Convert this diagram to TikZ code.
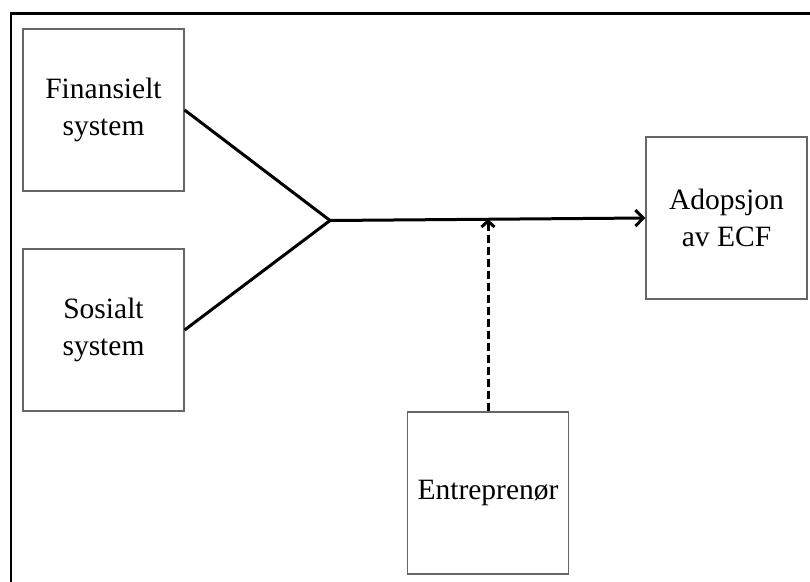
\documentclass[tikz,border=0pt]{standalone}
\usepackage{fontspec}
\setmainfont{Liberation Serif}
\usepackage{tikz}
\usetikzlibrary{arrows.meta,positioning}
\tikzset{
  frame/.style={line width=2.2pt,black},
  box/.style={draw=black!60,line width=1.2pt,minimum width=161pt,
    minimum height=162pt,inner sep=0pt,align=center,
    font=\fontsize{29.5}{36.5}\selectfont},
  link/.style={line width=3pt,black},
  arrow/.style={link,-{Straight Barb[length=8pt,width=16pt,line width=3pt]}},
  effect/.style={line width=3pt,black,dash pattern=on 8pt off 4pt,
    -{Straight Barb[length=6pt,width=13pt,line width=3pt]}}
}

\begin{document}
\begin{tikzpicture}[x=1pt,y=-1pt]
  \useasboundingbox (0,0) rectangle (810,581);
  \clip (0,0) rectangle (810,581);
  % outer frame (cut off right and below)
  \draw[frame] (11,13.5) rectangle (840,620);
  % boxes
  \node[box] (fin) at (103.5,110) {Finansielt\\system};
  \node[box] (sos) at (103.5,330) {Sosialt\\system};
  \node[box] (ado) at (726.5,218) {Adopsjon\\av ECF};
  \node[box] (ent) at (488,493) {\raisebox{5pt}{Entrepren\o r}};
  % joining point
  \coordinate (hub) at (330,220.5);
  \coordinate (meet) at (ent.north |- hub);
  \draw[link] (fin.east) -- (hub);
  \draw[link] (sos.east) -- (hub);
  \draw[arrow] (hub) -- (ado.west);
  % entrepreneur acts on the link
  \draw[effect] (ent.north) -- ([yshift=1.5pt]meet);
\end{tikzpicture}
\end{document}
